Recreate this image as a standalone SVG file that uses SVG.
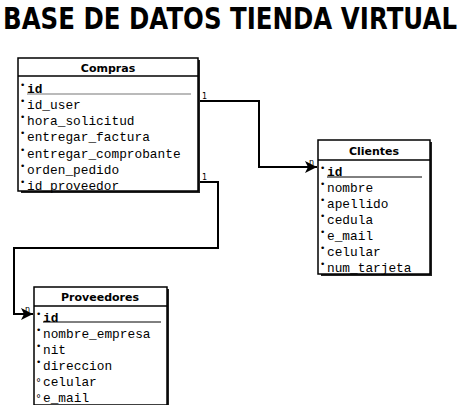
<svg xmlns="http://www.w3.org/2000/svg" width="461" height="405" viewBox="0 0 461 405">
<defs>
<style>
.title{font-family:"DejaVu Sans",Verdana,sans-serif;font-weight:bold;font-size:30px;fill:#000}
.box{fill:#fff;stroke:#000;stroke-width:1.5}
.shadow{fill:#222}
.hdr{font-family:"DejaVu Sans",Tahoma,sans-serif;font-weight:bold;font-size:11px;fill:#000;text-anchor:middle}
.f{font-family:"Liberation Mono","Courier New",monospace;font-size:12.8px;fill:#000}
.b{font-family:"DejaVu Sans",sans-serif;font-size:9px;fill:#000}
.o{font-family:"DejaVu Sans",sans-serif;font-size:10px;fill:#000}
.ul{stroke:#777;stroke-width:1.2}
.ul2{stroke:#000;stroke-width:1}
.conn{fill:none;stroke:#000;stroke-width:2}
.lbl{font-family:"DejaVu Sans",sans-serif;font-size:8px;fill:#000}
</style>
<marker id="arr" markerWidth="14" markerHeight="12" refX="12" refY="6" orient="auto" markerUnits="userSpaceOnUse">
<path d="M0,0 L12,6 L0,12 L3,6 Z" fill="#000"/>
</marker>
</defs>
<rect width="461" height="405" fill="#fff"/>
<text class="title" x="3" y="29" textLength="454" lengthAdjust="spacingAndGlyphs">BASE DE DATOS TIENDA VIRTUAL</text>

<g id="connectors">
<polyline class="conn" points="199,101 259,101 259,167 317,167" marker-end="url(#arr)"/>
<polyline class="conn" points="199,182 218,182 218,248 14,248 14,314 33,314" marker-end="url(#arr)"/>
<text class="lbl" x="202" y="99">1</text>
<text class="lbl" x="309" y="165">n</text>
<text class="lbl" x="202" y="180">1</text>
<text class="lbl" x="25" y="312">n</text>
</g>

<g id="compras">
<rect class="shadow" x="21" y="60" width="179" height="133"/>
<rect class="box" x="18" y="58" width="180" height="133"/>
<line x1="18" y1="76" x2="198" y2="76" stroke="#000" stroke-width="1.5"/>
<text class="hdr" x="108" y="72">Compras</text>
<line class="ul" x1="27" y1="94" x2="191" y2="94"/>
<text class="b" x="20" y="88">•</text><text class="f" x="27" y="93" font-weight="bold">id</text>
<text class="b" x="20" y="104">•</text><text class="f" x="27" y="109">id_user</text>
<text class="b" x="20" y="120">•</text><text class="f" x="27" y="125">hora_solicitud</text>
<text class="b" x="20" y="136">•</text><text class="f" x="27" y="141">entregar_factura</text>
<text class="b" x="20" y="153">•</text><text class="f" x="27" y="158">entregar_comprobante</text>
<text class="b" x="20" y="169">•</text><text class="f" x="27" y="174">orden_pedido</text>
<text class="b" x="20" y="185">•</text><text class="f" x="27" y="190">id_proveedor</text>
</g>

<g id="clientes">
<rect class="shadow" x="321" y="142" width="111" height="134"/>
<rect class="box" x="318" y="140" width="112" height="134"/>
<line x1="318" y1="160" x2="430" y2="160" stroke="#000" stroke-width="1.5"/>
<text class="hdr" x="374" y="155">Clientes</text>
<line class="ul2" x1="327" y1="177" x2="422" y2="177"/>
<text class="b" x="320" y="171">•</text><text class="f" x="327" y="176" font-weight="bold">id</text>
<text class="b" x="320" y="187">•</text><text class="f" x="327" y="192">nombre</text>
<text class="b" x="320" y="203">•</text><text class="f" x="327" y="208">apellido</text>
<text class="b" x="320" y="219">•</text><text class="f" x="327" y="224">cedula</text>
<text class="b" x="320" y="235">•</text><text class="f" x="327" y="240">e_mail</text>
<text class="b" x="320" y="251">•</text><text class="f" x="327" y="256">celular</text>
<text class="b" x="320" y="267">•</text><text class="f" x="327" y="272">num_tarjeta</text>
</g>

<g id="proveedores">
<rect class="shadow" x="37" y="289" width="132" height="118"/>
<rect class="box" x="34" y="287" width="133" height="118"/>
<line x1="34" y1="306" x2="167" y2="306" stroke="#000" stroke-width="1.5"/>
<text class="hdr" x="100" y="301">Proveedores</text>
<line class="ul2" x1="43" y1="322" x2="161" y2="322"/>
<text class="b" x="36" y="317">•</text><text class="f" x="43" y="322" font-weight="bold">id</text>
<text class="b" x="36" y="333">•</text><text class="f" x="43" y="338">nombre_empresa</text>
<text class="b" x="36" y="349">•</text><text class="f" x="43" y="354">nit</text>
<text class="b" x="36" y="365">•</text><text class="f" x="43" y="370">direccion</text>
<text class="o" x="36" y="386">°</text><text class="f" x="43" y="386">celular</text>
<text class="o" x="36" y="402">°</text><text class="f" x="43" y="402">e_mail</text>
</g>
</svg>
